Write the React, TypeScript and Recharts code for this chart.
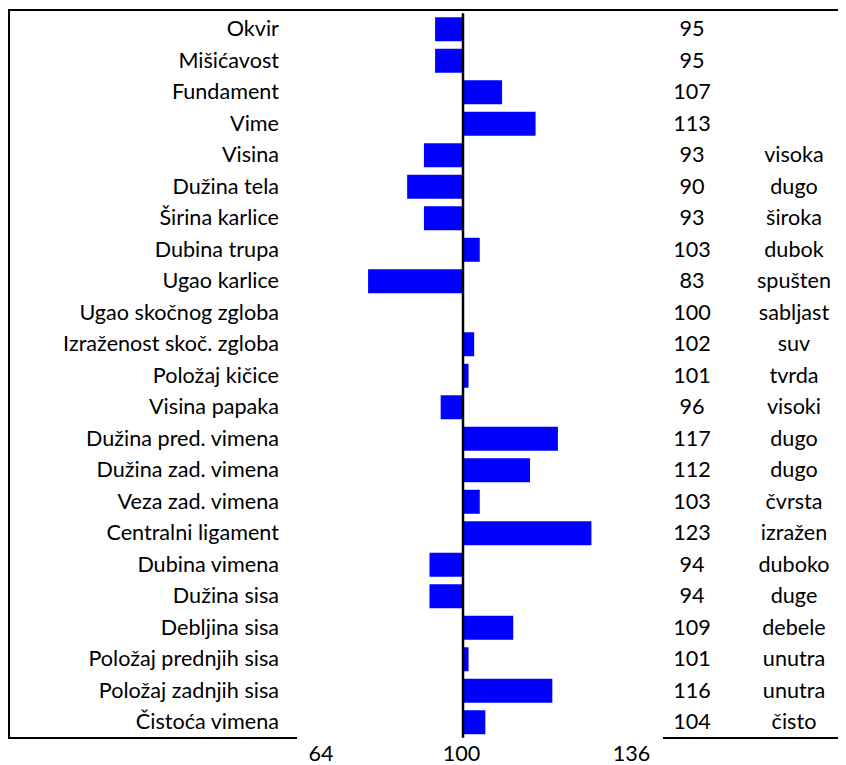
import React from "react";
import { BarChart, Bar, XAxis, YAxis, ReferenceLine } from "recharts";

const traits = [
  "Okvir",
  "Mišićavost",
  "Fundament",
  "Vime",
  "Visina",
  "Dužina tela",
  "Širina karlice",
  "Dubina trupa",
  "Ugao karlice",
  "Ugao skočnog zgloba",
  "Izraženost skoč. zgloba",
  "Položaj kičice",
  "Visina papaka",
  "Dužina pred. vimena",
  "Dužina zad. vimena",
  "Veza zad. vimena",
  "Centralni ligament",
  "Dubina vimena",
  "Dužina sisa",
  "Debljina sisa",
  "Položaj prednjih sisa",
  "Položaj zadnjih sisa",
  "Čistoća vimena",
];

const scores = [95, 95, 107, 113, 93, 90, 93, 103, 83, 100, 102, 101, 96, 117, 112, 103, 123, 94, 94, 109, 101, 116, 104];

const notes = [
  "", "", "", "",
  "visoka", "dugo", "široka", "dubok", "spušten", "sabljast", "suv", "tvrda",
  "visoki", "dugo", "dugo", "čvrsta", "izražen", "duboko", "duge", "debele",
  "unutra", "unutra", "čisto",
];

const xTicks = [64, 100, 136];

const data = traits.map((name, i) => ({ name, score: scores[i], note: notes[i] }));

const FONT = "Lato, 'Noto Sans', sans-serif";
const FS = 21.6;

// excel put the axis numbers a bit off the real scale
const tickShift: Record<number, number> = { 64: 59, 100: -1.5, 136: -32.5 };

const NameTick = (props: any) => {
  const { x, y, payload } = props;
  return (
    <text x={x + 17} y={y} dy="0.33em" textAnchor="end" fontFamily={FONT} fontSize={FS} fill="#000">
      {payload.value}
    </text>
  );
};

const ValueTick = (props: any) => {
  const { x, y, index } = props;
  const row = data[index];
  if (!row) return null;
  return (
    <g>
      <text x={x + 28} y={y} dy="0.33em" textAnchor="middle" fontFamily={FONT} fontSize={FS} fill="#000">
        {row.score}
      </text>
      <text x={x + 130} y={y} dy="0.33em" textAnchor="middle" fontFamily={FONT} fontSize={FS} fill="#000">
        {row.note}
      </text>
    </g>
  );
};

const AxisTick = (props: any) => {
  const { x, y, payload } = props;
  return (
    <text x={x + (tickShift[payload.value] || 0)} y={y} dy={23} textAnchor="middle" fontFamily={FONT} fontSize={FS} fill="#000">
      {payload.value}
    </text>
  );
};

const line = (style: React.CSSProperties) => (
  <div style={{ position: "absolute", background: "#000", ...style }} />
);

export default function App() {
  return (
    <div style={{ position: "relative", width: 838, height: 757 }}>
      {line({ left: 0, top: 1, width: 838, height: 2 })}
      {line({ left: 0, top: 1, width: 2, height: 730 })}
      {line({ left: 0, top: 729, width: 289, height: 2 })}
      {line({ left: 655, top: 729, width: 183, height: 2 })}
      <BarChart
        width={838}
        height={757}
        data={data}
        layout="vertical"
        margin={{ top: 5.25, right: 0, bottom: 0, left: 0 }}
        style={{ position: "absolute", left: 0, top: 0 }}
      >
        <XAxis
          type="number"
          domain={[64, 136]}
          ticks={xTicks}
          axisLine={false}
          tickLine={false}
          tickSize={0}
          tickMargin={0}
          height={27.25}
          tick={<AxisTick />}
          allowDataOverflow
        />
        <YAxis
          yAxisId="names"
          type="category"
          dataKey="name"
          width={254}
          axisLine={false}
          tickLine={false}
          tickSize={0}
          tickMargin={0}
          interval={0}
          tick={<NameTick />}
        />
        <YAxis
          yAxisId="values"
          orientation="right"
          type="category"
          dataKey="name"
          width={182}
          axisLine={false}
          tickLine={false}
          tickSize={0}
          tickMargin={0}
          interval={0}
          tick={<ValueTick />}
        />
        <Bar
          yAxisId="names"
          dataKey={(d: any) => (d.score < 100 ? [d.score, 100] : [100, d.score])}
          fill="#0000FF"
          barSize={24}
          isAnimationActive={false}
        />
        <ReferenceLine yAxisId="names" x={100} stroke="#000" strokeWidth={2.5} />
      </BarChart>
    </div>
  );
}
